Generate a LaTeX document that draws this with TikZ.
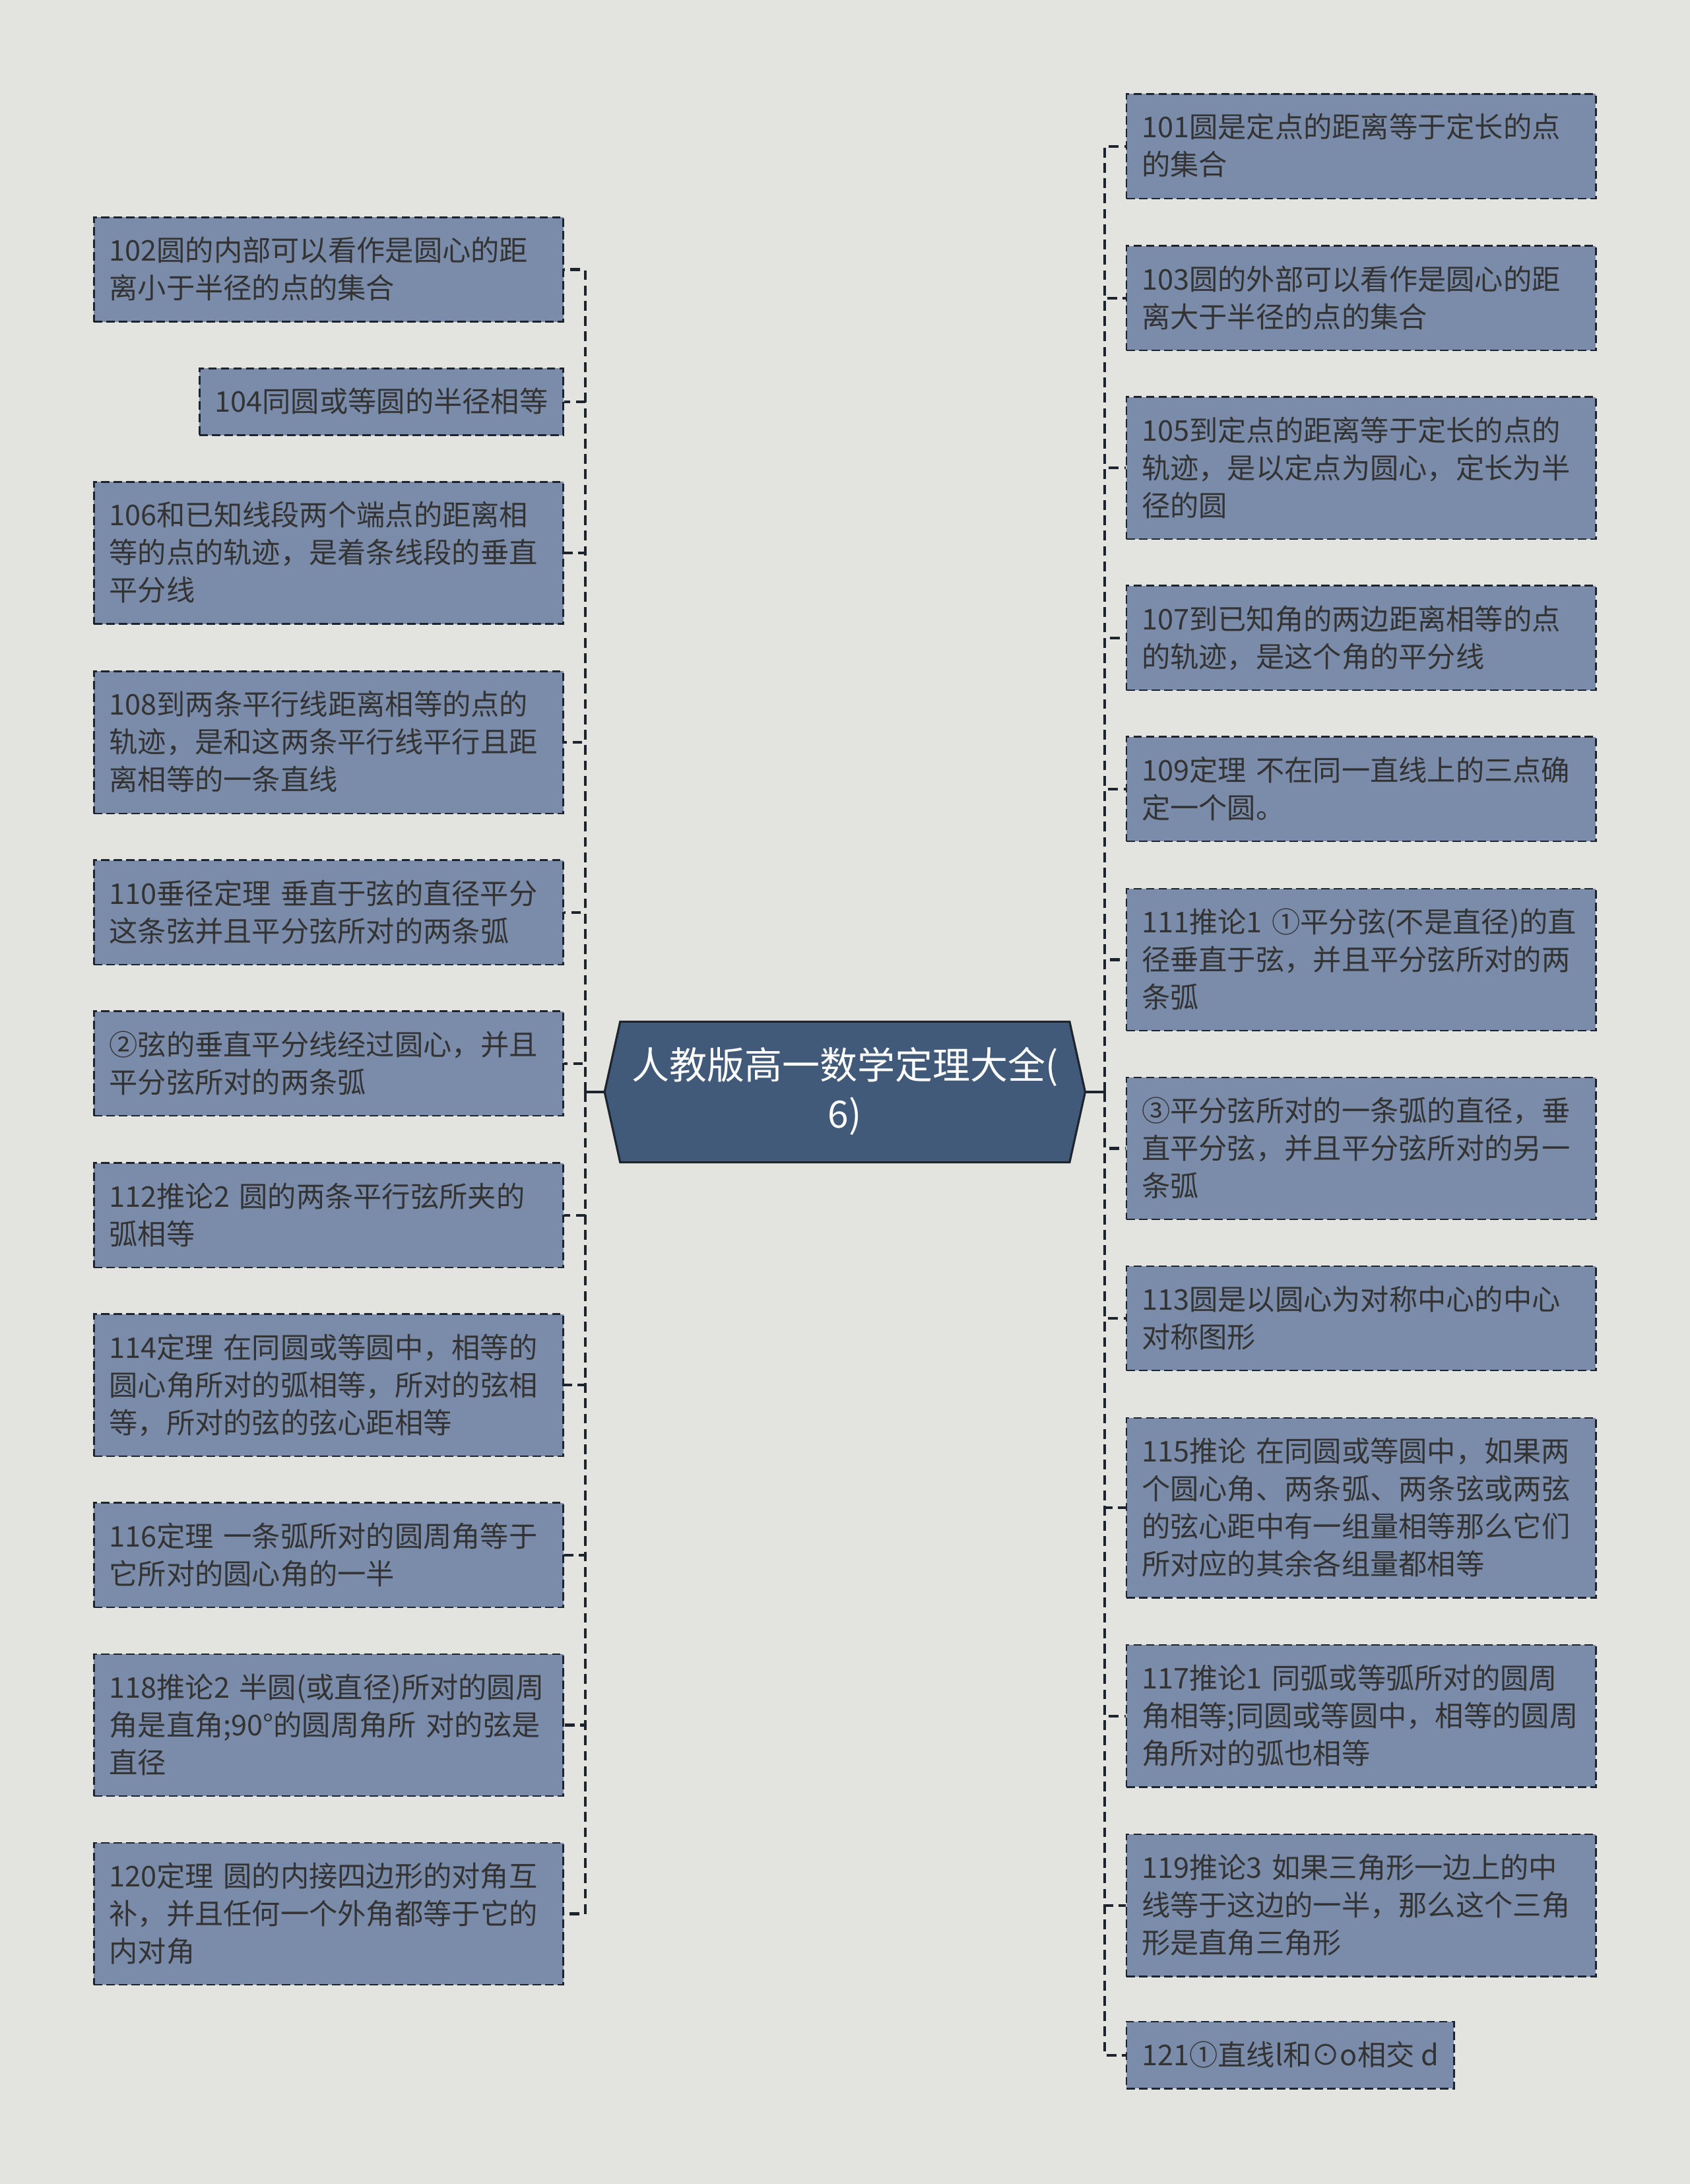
\documentclass[tikz,border=0pt]{standalone}
\usepackage{fontspec}
\setmainfont{Noto Sans CJK SC}
\usetikzlibrary{shapes.symbols}
\definecolor{bgcol}{HTML}{E3E3DF}
\definecolor{boxcol}{HTML}{7A8CA9}
\definecolor{rootcol}{HTML}{415A7A}
\definecolor{linecol}{HTML}{1E242E}
\definecolor{textcol}{HTML}{333333}
\newcommand\topicstrut{\rule[-6pt]{0pt}{27pt}}
\newcommand\rootstrut{\rule[-6pt]{0pt}{35pt}}
\begin{document}
\begin{tikzpicture}[x=1pt,y=-1pt,
    topic/.style={draw=linecol, line width=1.2pt, dash pattern=on 6pt off 3pt,
      fill=boxcol, text=textcol, font=\fontsize{20.5}{27}\selectfont,
      align=left, inner xsep=11pt, inner ysep=10.5pt,
      execute at begin node=\topicstrut, execute at end node=\topicstrut},
    topicwide/.style={topic, text width=315pt},
    rootnode/.style={signal, signal to=west and east, signal pointer angle=155,
      draw=linecol, line width=1.5pt, fill=rootcol, text=white,
      font=\fontsize{27}{35}\selectfont, align=center,
      minimum width=345pt, minimum height=101pt,
      execute at begin node=\rootstrut, execute at end node=\rootstrut},
    branch/.style={draw=linecol, line width=2pt, dash pattern=on 7pt off 4pt},
    stem/.style={draw=linecol, line width=1.8pt}]

    % Background
    \fill[bgcol] (0,0) rectangle (1213,1568);
    \useasboundingbox (0,0) rectangle (1213,1568);

    % Root
    \node[rootnode] (root) at (606.5,784) {人教版高一数学定理大全(\\6)};
    \coordinate (lj) at (420,784);
    \coordinate (rj) at (793,784);

    % Left topics
    \node[topicwide, anchor=east] (t102) at (405,193.5) {102圆的内部可以看作是圆心的距\\离小于半径的点的集合};
    \node[topic, anchor=east] (t104) at (405,288.5) {104同圆或等圆的半径相等};
    \node[topicwide, anchor=east] (t106) at (405,397) {106和已知线段两个端点的距离相\\等的点的轨迹，是着条线段的垂直\\平分线};
    \node[topicwide, anchor=east] (t108) at (405,533) {108到两条平行线距离相等的点的\\轨迹，是和这两条平行线平行且距\\离相等的一条直线};
    \node[topicwide, anchor=east] (t110) at (405,655) {110垂径定理~垂直于弦的直径平分\\这条弦并且平分弦所对的两条弧};
    \node[topicwide, anchor=east] (t110b) at (405,763.5) {②弦的垂直平分线经过圆心，并且\\平分弦所对的两条弧};
    \node[topicwide, anchor=east] (t112) at (405,872.5) {112推论2~圆的两条平行弦所夹的\\弧相等};
    \node[topicwide, anchor=east] (t114) at (405,994.5) {114定理~在同圆或等圆中，相等的\\圆心角所对的弧相等，所对的弦相\\等，所对的弦的弦心距相等};
    \node[topicwide, anchor=east] (t116) at (405,1116.5) {116定理~一条弧所对的圆周角等于\\它所对的圆心角的一半};
    \node[topicwide, anchor=east] (t118) at (405,1238.5) {118推论2~半圆(或直径)所对的圆周\\角是直角;90°的圆周角所~对的弦是\\直径};
    \node[topicwide, anchor=east] (t120) at (405,1374) {120定理~圆的内接四边形的对角互\\补，并且任何一个外角都等于它的\\内对角};

    % Right topics
    \node[topicwide, anchor=west] (t101) at (808,105) {101圆是定点的距离等于定长的点\\的集合};
    \node[topicwide, anchor=west] (t103) at (808,214) {103圆的外部可以看作是圆心的距\\离大于半径的点的集合};
    \node[topicwide, anchor=west] (t105) at (808,336) {105到定点的距离等于定长的点的\\轨迹，是以定点为圆心，定长为半\\径的圆};
    \node[topicwide, anchor=west] (t107) at (808,458) {107到已知角的两边距离相等的点\\的轨迹，是这个角的平分线};
    \node[topicwide, anchor=west] (t109) at (808,566.5) {109定理~不在同一直线上的三点确\\定一个圆。};
    \node[topicwide, anchor=west] (t111) at (808,689) {111推论1~①平分弦(不是直径)的直\\径垂直于弦，并且平分弦所对的两\\条弧};
    \node[topicwide, anchor=west] (t111b) at (808,824.5) {③平分弦所对的一条弧的直径，垂\\直平分弦，并且平分弦所对的另一\\条弧};
    \node[topicwide, anchor=west] (t113) at (808,946.5) {113圆是以圆心为对称中心的中心\\对称图形};
    \node[topicwide, anchor=west] (t115) at (808,1082.5) {115推论~在同圆或等圆中，如果两\\个圆心角、两条弧、两条弦或两弦\\的弦心距中有一组量相等那么它们\\所对应的其余各组量都相等};
    \node[topicwide, anchor=west] (t117) at (808,1232) {117推论1~同弧或等弧所对的圆周\\角相等;同圆或等圆中，相等的圆周\\角所对的弧也相等};
    \node[topicwide, anchor=west] (t119) at (808,1368) {119推论3~如果三角形一边上的中\\线等于这边的一半，那么这个三角\\形是直角三角形};
    \node[topic, anchor=west] (t121) at (808,1475.5) {121①直线l和⊙o相交~d};

    % Connectors
    \draw[stem] (root.west) -- (lj);
    \draw[stem] (root.east) -- (rj);
    \foreach \t in {t102,t104,t106,t108,t110,t110b,t112,t114,t116,t118,t120}
        \draw[branch] (lj) |- (\t.east);
    \foreach \t in {t101,t103,t105,t107,t109,t111,t111b,t113,t115,t117,t119,t121}
        \draw[branch] (rj) |- (\t.west);
\end{tikzpicture}
\end{document}
